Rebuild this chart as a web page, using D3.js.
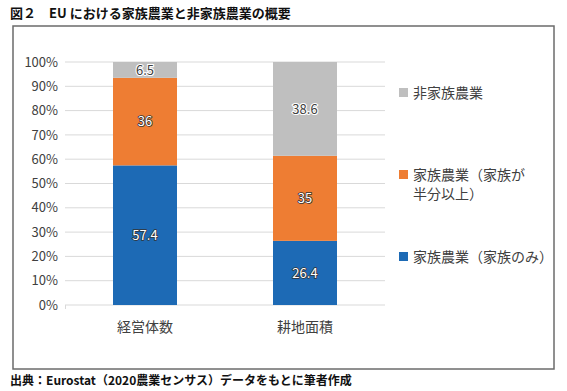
<!DOCTYPE html>
<html><head><meta charset="utf-8">
<script src="https://cdn.jsdelivr.net/npm/d3@7"></script>
<style>body{margin:0;background:#fff}svg{display:block}</style>
</head><body>
<svg id="c" width="567" height="391"></svg>
<script>
const categories = ["経営体数", "耕地面積"];
const seriesNames = ["家族農業（家族のみ）", "家族農業（家族が半分以上）", "非家族農業"];
const familyOnly = [57.4, 26.4];
const familyHalf = [36, 35];
const nonFamily = [6.5, 38.6];
const yTicks = [0, 10, 20, 30, 40, 50, 60, 70, 80, 90, 100];
const colors = ["#1d6ab5", "#ee7d33", "#bfbfbf"];

const svg = d3.select("#c");
const font = "'Noto Sans CJK JP', 'Noto Sans', sans-serif";

svg.append("text").attr("x", 10).attr("y", 18).attr("font-family", font)
  .attr("font-weight", "bold").attr("font-size", 13).attr("fill", "#111")
  .text("図２　EU における家族農業と非家族農業の概要");
svg.append("rect").attr("x", 13).attr("y", 26).attr("width", 541).attr("height", 343)
  .attr("fill", "none").attr("stroke", "#6b6b6b").attr("stroke-width", 1.5);
svg.append("text").attr("x", 10).attr("y", 385).attr("font-family", font)
  .attr("font-weight", "bold").attr("font-size", 12).attr("fill", "#111")
  .text("出典：Eurostat（2020農業センサス）データをもとに筆者作成");

const x = d3.scaleBand().domain(categories).range([65, 385]).paddingInner(0.6).paddingOuter(0.3);
const y = d3.scaleLinear().domain([0, 100]).range([305, 62]);

svg.append("g").selectAll("line").data(yTicks).join("line")
  .attr("x1", 65).attr("x2", 385).attr("y1", d => y(d)).attr("y2", d => y(d))
  .attr("stroke", "#d9d9d9").attr("stroke-width", 1);
svg.append("line").attr("x1", 65.5).attr("x2", 65.5).attr("y1", y(0)).attr("y2", y(0) + 4)
  .attr("stroke", "#d9d9d9");

const yAxis = svg.append("g").attr("transform", "translate(65,0)")
  .call(d3.axisLeft(y).tickValues(yTicks).tickFormat(d => d + "%").tickSize(0).tickPadding(7));
yAxis.select(".domain").remove();
yAxis.selectAll("text").attr("font-family", font).attr("font-size", 13).attr("fill", "#404040");

const xAxis = svg.append("g").attr("transform", `translate(0,${y(0)})`)
  .call(d3.axisBottom(x).tickSize(0).tickPadding(17));
xAxis.select(".domain").remove();
xAxis.selectAll("text").attr("font-family", font).attr("font-size", 14).attr("fill", "#404040");

const rows = categories.map((c, i) => {
  const vals = [familyOnly[i], familyHalf[i], nonFamily[i]];
  const tot = d3.sum(vals);
  const o = { cat: c };
  vals.forEach((v, k) => o["s" + k] = v / tot * 100);
  o.raw = vals;
  return o;
});
const stack = d3.stack().keys(["s0", "s1", "s2"])(rows);

const g = svg.append("g");
stack.forEach((layer, k) => {
  g.selectAll(null).data(layer).join("rect")
    .attr("x", d => x(d.data.cat)).attr("width", x.bandwidth())
    .attr("y", d => y(d[1])).attr("height", d => y(d[0]) - y(d[1]))
    .attr("fill", colors[k]);
});
stack.forEach((layer, k) => {
  g.selectAll(null).data(layer).join("text")
    .attr("x", d => x(d.data.cat) + x.bandwidth() / 2)
    .attr("y", d => (y(d[0]) + y(d[1])) / 2)
    .attr("dy", "0.36em").attr("text-anchor", "middle")
    .attr("font-family", font).attr("font-size", 13)
    .attr("fill", k === 2 ? "#404040" : "#ffffff")
    .attr("stroke", k === 2 ? "#ffffff" : "#333333")
    .attr("stroke-width", k === 2 ? 2.2 : 1.6)
    .attr("paint-order", "stroke")
    .text(d => d.data.raw[k]);
});

const legend = [
  { k: 2, lines: ["非家族農業"], y: 93 },
  { k: 1, lines: ["家族農業（家族が", "半分以上）"], y: 175 },
  { k: 0, lines: ["家族農業（家族のみ）"], y: 257 }
];
legend.forEach(L => {
  svg.append("rect").attr("x", 399).attr("y", L.y - 5).attr("width", 9).attr("height", 9)
    .attr("fill", colors[L.k]);
  L.lines.forEach((t, j) => {
    svg.append("text").attr("x", 413).attr("y", L.y + j * 19).attr("dy", "0.36em")
      .attr("font-family", font).attr("font-size", 14).attr("fill", "#404040").text(t);
  });
});
</script>
</body></html>
